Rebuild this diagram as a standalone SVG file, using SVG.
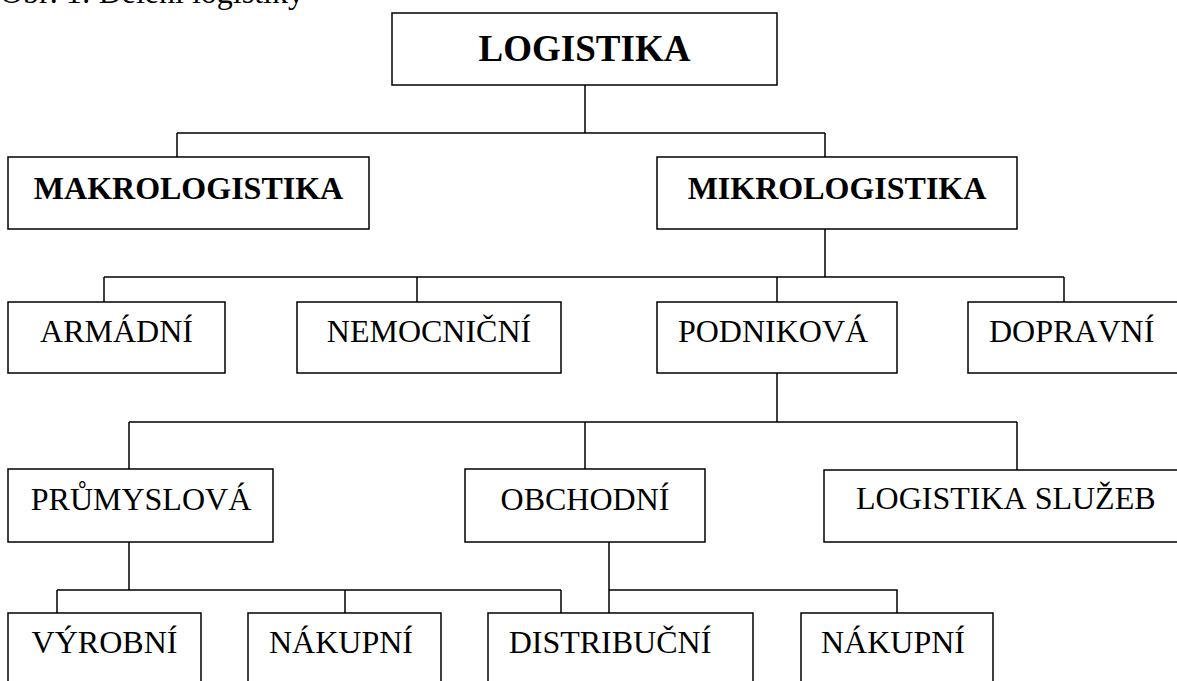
<svg xmlns="http://www.w3.org/2000/svg" width="1177" height="681" viewBox="0 0 1177 681">
<style>
.box{fill:#fff;stroke:#000;stroke-width:1.5}
.t{font-family:"Liberation Serif","Times New Roman",serif;font-size:32px;fill:#000;text-anchor:middle;font-kerning:none}
.b{font-weight:bold}
.s{text-anchor:start}
.c{fill:none;stroke:#000;stroke-width:1.5}
</style>
<rect width="1177" height="681" fill="#fff"/>
<text x="0" y="3" class="t s">Obr. 1: Dělení logistiky</text>
<g id="connectors" class="c">
<path d="M585 85V133M177 133H825M177 133V157M825 133V157"/>
<path d="M825 229V277M104 277H1064M104 277V302M417 277V302M777 277V302M1064 277V302"/>
<path d="M777 373V422M129 422H1017M129 422V469M585 422V469M1017 422V470"/>
<path d="M129 542V590M57 590H561M57 590V613M345 590V613M561 590V613"/>
<path d="M609 542V613M609 590H897V613"/>
</g>
<g id="logistika"><rect class="box" x="392" y="13" width="385" height="72"/><text class="t b" x="584.5" y="61" style="font-size:37px">LOGISTIKA</text></g>
<g id="makrologistika"><rect class="box" x="8" y="157" width="361" height="72"/><text class="t b" x="188.5" y="199">MAKROLOGISTIKA</text></g>
<g id="mikrologistika"><rect class="box" x="657" y="157" width="360" height="72"/><text class="t b" x="837" y="199">MIKROLOGISTIKA</text></g>
<g id="armadni"><rect class="box" x="8" y="302" width="217" height="71"/><text class="t" x="116.5" y="342">ARMÁDNÍ</text></g>
<g id="nemocnicni"><rect class="box" x="297" y="302" width="264" height="71"/><text class="t" x="429" y="342">NEMOCNIČNÍ</text></g>
<g id="podnikova"><rect class="box" x="657" y="302" width="240" height="71"/><text class="t" x="773" y="342">PODNIKOVÁ</text></g>
<g id="dopravni"><rect class="box" x="968" y="302" width="230" height="71"/><text class="t s" x="989" y="342">DOPRAVNÍ</text></g>
<g id="prumyslova"><rect class="box" x="8" y="469" width="265" height="73"/><text class="t" x="141" y="510">PRŮMYSLOVÁ</text></g>
<g id="obchodni"><rect class="box" x="465" y="469" width="240" height="73"/><text class="t" x="585" y="510">OBCHODNÍ</text></g>
<g id="logistika-sluzeb"><rect class="box" x="824" y="470" width="374" height="72"/><text class="t s" x="856" y="509">LOGISTIKA SLUŽEB</text></g>
<g id="vyrobni"><rect class="box" x="8" y="613" width="193" height="90"/><text class="t" x="104.5" y="653">VÝROBNÍ</text></g>
<g id="nakupni1"><rect class="box" x="248" y="613" width="193" height="90"/><text class="t" x="341" y="653">NÁKUPNÍ</text></g>
<g id="distribucni"><rect class="box" x="488" y="613" width="265" height="90"/><text class="t" x="610" y="653">DISTRIBUČNÍ</text></g>
<g id="nakupni2"><rect class="box" x="801" y="613" width="192" height="90"/><text class="t" x="893" y="653">NÁKUPNÍ</text></g>
</svg>
